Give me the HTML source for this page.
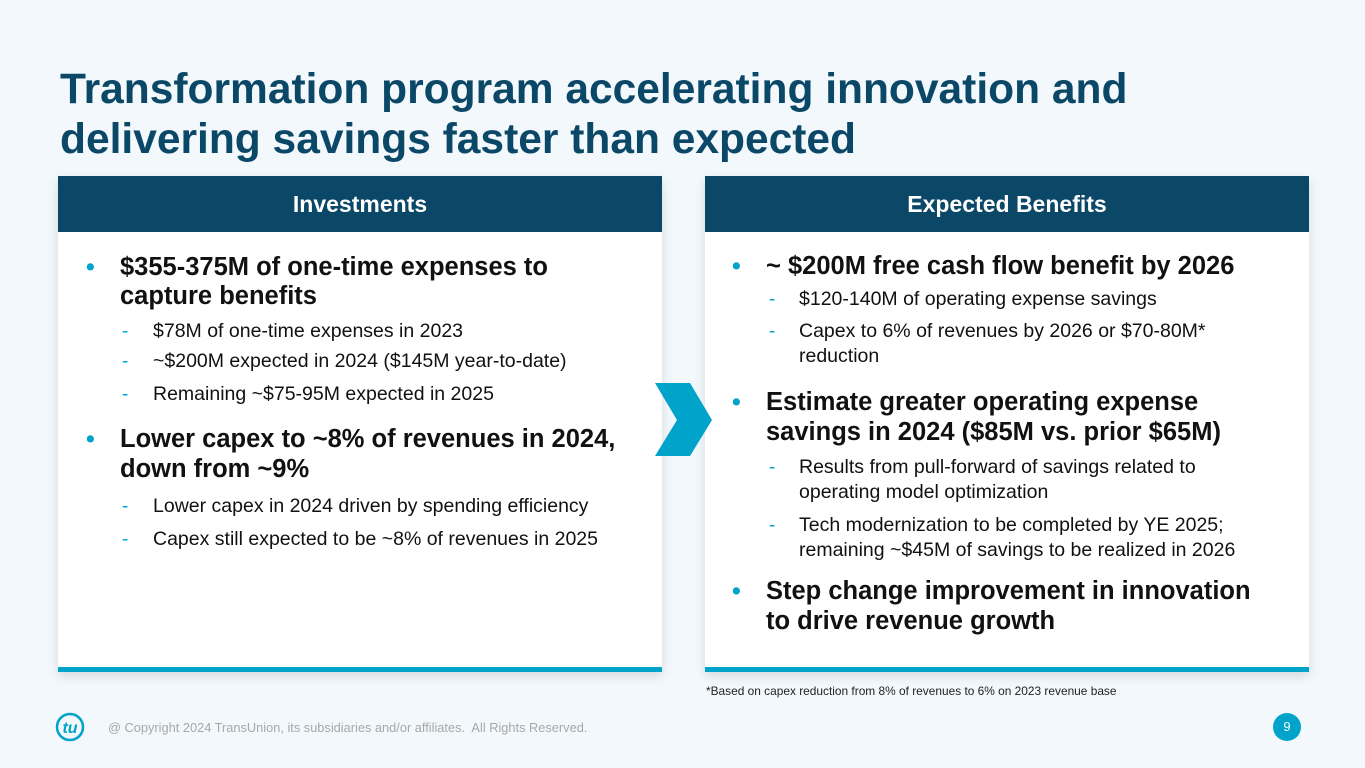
<!DOCTYPE html>
<html><head><meta charset="utf-8"><style>
body{margin:0;width:1365px;height:768px;background:#f2f8fb;font-family:"Liberation Sans",Arial,sans-serif;overflow:hidden;position:relative}
.a{position:absolute;white-space:nowrap}
.t{font-size:42.5px;font-weight:bold;color:#0b4767;line-height:42.5px;left:60px}
.b{font-size:25.5px;font-weight:bold;color:#111;line-height:25.5px}
.s{font-size:19.5px;color:#111;line-height:19.5px}
.dot{color:#00a3c9;font-size:25px;font-weight:bold;line-height:25px}
.dash{color:#00a3c9;font-size:19px;line-height:19px}
.panel{position:absolute;top:176px;width:604px;height:496px;background:#fff;box-shadow:0 4px 10px rgba(0,0,0,0.12)}
.hdr{position:absolute;left:0;top:0;width:100%;height:56px;background:#0b4767;color:#fff;font-size:23px;font-weight:bold;text-align:center;line-height:56px}
.bar{position:absolute;left:0;bottom:0;width:100%;height:5px;background:#00a3c9}
</style></head><body>
<div class="a t" style="top:69px">Transformation program accelerating innovation and</div>
<div class="a t" style="top:119px">delivering savings faster than expected</div>

<div class="panel" style="left:58px"><div class="hdr">Investments</div><div class="bar"></div></div>
<div class="panel" style="left:705px"><div class="hdr">Expected Benefits</div><div class="bar"></div></div>

<svg class="a" style="left:650px;top:378px" width="70" height="85"><polygon points="5,5 40,5 62,42 40,78 5,78 27,42" fill="#00a3c9"/></svg>

<div>
<div class="a dot" style="left:86px;top:255px">•</div>
<div class="a b" style="left:120px;top:255px">$355-375M of one-time expenses to</div>
<div class="a b" style="left:120px;top:284px">capture benefits</div>
<div class="a dash" style="left:122px;top:322px">-</div><div class="a s" style="left:153px;top:322px">$78M of one-time expenses in 2023</div>
<div class="a dash" style="left:122px;top:352px">-</div><div class="a s" style="left:153px;top:352px">~$200M expected in 2024 ($145M year-to-date)</div>
<div class="a dash" style="left:122px;top:385px">-</div><div class="a s" style="left:153px;top:385px">Remaining ~$75-95M expected in 2025</div>
<div class="a dot" style="left:86px;top:427px">•</div>
<div class="a b" style="left:120px;top:427px">Lower capex to ~8% of revenues in 2024,</div>
<div class="a b" style="left:120px;top:457px">down from ~9%</div>
<div class="a dash" style="left:122px;top:497px">-</div><div class="a s" style="left:153px;top:497px">Lower capex in 2024 driven by spending efficiency</div>
<div class="a dash" style="left:122px;top:530px">-</div><div class="a s" style="left:153px;top:530px">Capex still expected to be ~8% of revenues in 2025</div>
</div>

<div>
<div class="a dot" style="left:732px;top:254px">•</div>
<div class="a b" style="left:766px;top:254px">~ $200M free cash flow benefit by 2026</div>
<div class="a dash" style="left:769px;top:290px">-</div><div class="a s" style="left:799px;top:290px">$120-140M of operating expense savings</div>
<div class="a dash" style="left:769px;top:322px">-</div><div class="a s" style="left:799px;top:322px">Capex to 6% of revenues by 2026 or $70-80M*</div>
<div class="a s" style="left:799px;top:347px">reduction</div>
<div class="a dot" style="left:732px;top:390px">•</div>
<div class="a b" style="left:766px;top:390px">Estimate greater operating expense</div>
<div class="a b" style="left:766px;top:420px">savings in 2024 ($85M vs. prior $65M)</div>
<div class="a dash" style="left:769px;top:458px">-</div><div class="a s" style="left:799px;top:458px">Results from pull-forward of savings related to</div>
<div class="a s" style="left:799px;top:483px">operating model optimization</div>
<div class="a dash" style="left:769px;top:516px">-</div><div class="a s" style="left:799px;top:516px">Tech modernization to be completed by YE 2025;</div>
<div class="a s" style="left:799px;top:541px">remaining ~$45M of savings to be realized in 2026</div>
<div class="a dot" style="left:732px;top:579px">•</div>
<div class="a b" style="left:766px;top:579px">Step change improvement in innovation</div>
<div class="a b" style="left:766px;top:609px">to drive revenue growth</div>
</div>

<div class="a" style="left:706px;top:685px;font-size:11.9px;line-height:12px;color:#222">*Based on capex reduction from 8% of revenues to 6% on 2023 revenue base</div>

<svg class="a" style="left:55px;top:712px" width="32" height="32"><circle cx="15" cy="15" r="13" fill="none" stroke="#00a3c9" stroke-width="2.5"/><text x="15" y="21" text-anchor="middle" font-family="Liberation Sans" font-style="italic" font-weight="bold" font-size="16" fill="#00a3c9">tu</text></svg>
<div class="a" style="left:108px;top:721px;font-size:12.8px;line-height:13px;color:#a8a8a8">@ Copyright 2024 TransUnion, its subsidiaries and/or affiliates.&nbsp; All Rights Reserved.</div>
<div class="a" style="left:1273px;top:713px;width:28px;height:28px;border-radius:50%;background:#00a3c9;color:#fff;font-size:13px;line-height:28px;text-align:center">9</div>
</body></html>
